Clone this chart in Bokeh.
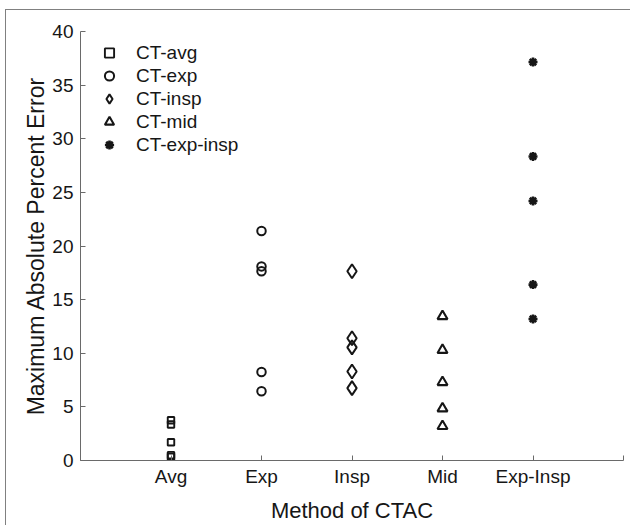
from bokeh.plotting import figure
from bokeh.models import FixedTicker, Legend, LegendItem, Range1d
from bokeh.embed import file_html
from bokeh.resources import INLINE

# ---- data ----
categories = ["Avg", "Exp", "Insp", "Mid", "Exp-Insp"]
series_names = ["CT-avg", "CT-exp", "CT-insp", "CT-mid", "CT-exp-insp"]
ct_avg = [3.75, 3.35, 1.7, 0.5, 0.35]
ct_exp = [21.4, 18.1, 17.65, 8.25, 6.45]
ct_insp = [17.65, 11.4, 10.55, 8.3, 6.75]
ct_mid = [13.45, 10.3, 7.3, 4.85, 3.2]
ct_exp_insp = [37.15, 28.35, 24.2, 16.4, 13.2]
y_ticks = [0, 5, 10, 15, 20, 25, 30, 35, 40]

FONT = "Liberation Sans"
INK = "#161616"
AX = "#6a6a6a"

p = figure(width=625, height=516, output_backend="svg", toolbar_location=None,
           x_range=Range1d(0, 6), y_range=Range1d(0, 40),
           min_border_left=74, min_border_top=21, min_border_right=8, min_border_bottom=66)
p.styles = {"border-left": "1px solid #808080", "border-top": "1px solid #808080",
            "margin-left": "5px", "margin-top": "9px"}
p.outline_line_color = None
p.grid.visible = False
p.background_fill_color = "white"
p.border_fill_color = "white"

# axes
for ax in (p.xaxis[0], p.yaxis[0]):
    ax.axis_line_color = AX
    ax.axis_line_width = 1
    ax.major_tick_line_color = AX
    ax.major_tick_in = 5
    ax.major_tick_out = 0
    ax.minor_tick_line_color = None
    ax.major_label_text_font = FONT
    ax.major_label_text_font_size = "19px"
    ax.major_label_text_color = INK
    ax.axis_label_text_font = FONT
    ax.axis_label_text_font_style = "normal"
    ax.axis_label_text_color = INK

p.xaxis.ticker = FixedTicker(ticks=[0, 1, 2, 3, 4, 5, 6])
overrides = {0: "", 6: ""}
for i, c in enumerate(categories):
    overrides[i + 1] = c
p.xaxis.major_label_overrides = overrides
p.xaxis.major_label_standoff = 5
p.xaxis.axis_label = "Method of CTAC"
p.xaxis.axis_label_text_font_size = "22px"
p.xaxis.axis_label_standoff = 8

p.yaxis.ticker = FixedTicker(ticks=y_ticks)
p.yaxis.major_label_standoff = 7
p.yaxis.axis_label = "Maximum Absolute Percent Error"
p.yaxis.axis_label_text_font_size = "23px"
p.yaxis.axis_label_standoff = 0

# glyphs
groups = [
    (ct_avg, "square", 6.5, 1.9),
    (ct_exp, "circle", 8.5, 2.0),
    (ct_insp, "diamond", 14, 2.0),
    (ct_mid, "triangle", 10, 2.1),
    (ct_exp_insp, "asterisk", 9, 2.6),
]
items = []
for i, (vals, marker, size, lw) in enumerate(groups):
    xs = [i + 1] * len(vals)
    r = p.scatter(xs, vals, marker=marker, size=size, line_color=INK, line_width=lw,
                  fill_color=None if marker != "asterisk" else INK)
    items.append(LegendItem(label=series_names[i], renderers=[r]))

legend = Legend(items=items, location="top_left")
legend.margin = 10
legend.padding = 5
legend.glyph_width = 38
legend.glyph_height = 23
legend.label_height = 20
legend.spacing = 0
legend.label_standoff = 8
legend.label_text_font = FONT
legend.label_text_font_size = "19px"
legend.label_text_color = INK
legend.border_line_color = None
legend.background_fill_alpha = 0
p.add_layout(legend)

open("out.html", "w").write(file_html(p, INLINE))
